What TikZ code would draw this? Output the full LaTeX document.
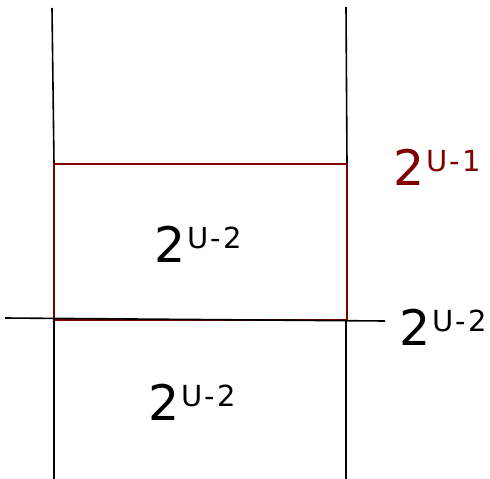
\documentclass[tikz,border=0pt]{standalone}
\usepackage{fontspec}
\setmainfont{DejaVu Sans}
\usepackage{xcolor}
\definecolor{halfred}{RGB}{128,0,0}
% 2^{U-#1}, set as the reference sets it: a raised, smaller, spaced "U-#1"
\newcommand{\powlabel}[1]{2\kern2pt\raisebox{14pt}{\fontsize{29}{29}\selectfont U\kern2pt-\kern2pt#1}}

\begin{document}
\begin{tikzpicture}[x=1pt, y=-1pt,
    wall/.style={black, line width=1.6pt},
    half/.style={halfred, line width=1.6pt},
    lbl/.style={font=\fontsize{49}{49}\selectfont, anchor=base west, inner sep=0pt}]
\useasboundingbox (0,0) rectangle (490,479);

% ---- upper part of the two walls
\draw[wall] (52,8) -- (54,164);
\draw[wall] (346,7) -- (347,164);

% ---- the upper half, 2^{U-1}
\draw[half] (54,164) rectangle (347,320);

% ---- lower part of the walls and the cut
\draw[wall] (54,318) -- (54,479);
\draw[wall] (346,320) -- (346,479);
\draw[wall] (5,318) -- (385,321);

% ---- labels
\node[lbl, halfred] (upper) at (393,185) {\powlabel{1}};
\node[lbl] (cut) at (399,345) {\powlabel{2}};
\node[lbl] (inner) at (154,262) {\powlabel{2}};
\node[lbl] (lower) at (148,420) {\powlabel{2}};
\end{tikzpicture}
\end{document}
